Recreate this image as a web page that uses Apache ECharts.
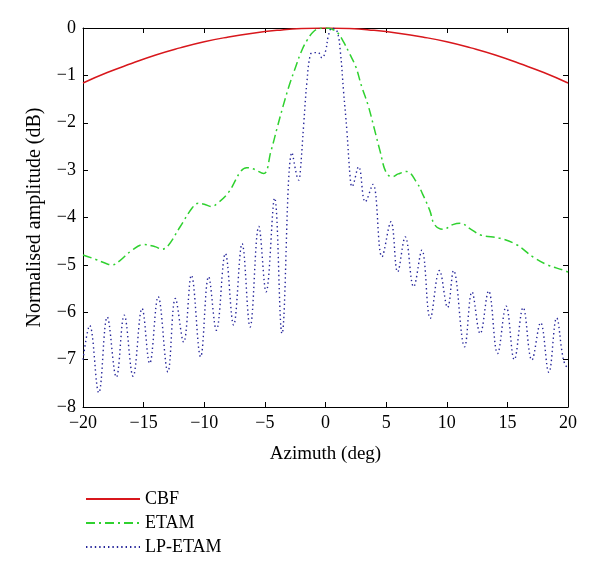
<!DOCTYPE html>
<html>
<head>
<meta charset="utf-8">
<script src="https://cdn.jsdelivr.net/npm/echarts@6/dist/echarts.min.js"></script>
<style>html,body{margin:0;padding:0;background:#fff}#c{width:600px;height:573px}</style>
</head>
<body>
<div id="c"></div>
<script>
var seriesNames = ['CBF', 'ETAM', 'LP-ETAM'];
var xTicks = [-20, -15, -10, -5, 0, 5, 10, 15, 20];
var yTicks = [-8, -7, -6, -5, -4, -3, -2, -1, 0];

var cbfAz = [-20, -18, -16, -14, -12, -10, -8, -6, -4, -2, 0, 2, 4, 6, 8, 10, 12, 14, 16, 18, 20];
var cbfDb = [-1.16, -0.94, -0.75, -0.57, -0.42, -0.29, -0.19, -0.11, -0.05, -0.01, 0, -0.01, -0.05, -0.11, -0.19, -0.29, -0.42, -0.57, -0.75, -0.94, -1.16];

var etamAz = [-20, -19, -18, -17.6, -17, -16, -15, -14, -13.5, -13, -12, -11, -10.5, -10, -9.4, -9, -8, -7, -6.5, -6, -5.1, -4.5, -4, -3.5, -3, -2.5, -2, -1.5, -1, -0.5, 0, 0.5, 1, 1.5, 2, 2.5, 3, 3.5, 4, 4.5, 5, 5.5, 6, 6.7, 7.5, 8, 8.6, 9, 9.7, 10.5, 11.1, 12, 12.8, 14.4, 15.8, 17.1, 18.3, 19.6, 20];
var etamDb = [-4.79, -4.88, -4.98, -5.0, -4.92, -4.7, -4.57, -4.62, -4.67, -4.6, -4.2, -3.8, -3.7, -3.72, -3.77, -3.72, -3.47, -3.03, -2.95, -2.97, -3.07, -2.6, -2.12, -1.65, -1.22, -0.85, -0.5, -0.25, -0.08, -0.01, 0, -0.02, -0.1, -0.3, -0.55, -0.82, -1.25, -1.62, -2.1, -2.6, -3.05, -3.14, -3.08, -3.03, -3.25, -3.5, -3.85, -4.15, -4.25, -4.15, -4.12, -4.25, -4.37, -4.44, -4.58, -4.83, -5.0, -5.11, -5.15];

var lpAz = [-20, -19.45, -18.7, -18.0, -17.25, -16.6, -15.87, -15.13, -14.5, -13.8, -13.0, -12.38, -11.7, -11.06, -10.3, -9.64, -9.0, -8.26, -7.58, -6.88, -6.22, -5.5, -4.9, -4.2, -3.59, -2.76, -2.2, -2.08, -1.8, -1.53, -1.25, -1.0, -0.6, -0.29, 0, 0.26, 0.54, 0.95, 1.22, 1.49, 1.77, 2.04, 2.18, 2.73, 3.28, 3.91, 4.66, 5.4, 5.95, 6.58, 7.27, 7.95, 8.64, 9.4, 10.07, 10.56, 11.47, 12.08, 12.76, 13.45, 14.19, 14.9, 15.57, 16.3, 17.02, 17.74, 18.42, 19.06, 19.63, 20];
var lpDb = [-7.0, -6.28, -7.7, -6.1, -7.37, -6.06, -7.35, -5.92, -7.08, -5.67, -7.26, -5.71, -6.63, -5.22, -6.94, -5.25, -6.38, -4.76, -6.27, -4.55, -6.31, -4.19, -5.57, -3.59, -6.45, -2.63, -3.21, -3.03, -2.04, -1.13, -0.56, -0.52, -0.52, -0.63, -0.49, -0.14, 0, -0.07, -0.49, -1.34, -2.19, -3.17, -3.35, -2.93, -3.67, -3.3, -4.83, -4.09, -5.15, -4.41, -5.46, -4.69, -6.13, -5.12, -5.9, -5.12, -6.73, -5.57, -6.45, -5.55, -6.87, -5.87, -7.0, -5.9, -7.01, -6.22, -7.27, -6.12, -7.01, -7.2];

function zip(a, b) { return a.map(function (v, i) { return [v, b[i]]; }); }
function minus(v) { return String(v).replace('-', '\u2212'); }

var font = 'Liberation Serif';
var chart = echarts.init(document.getElementById('c'), null, { renderer: 'canvas' });
var axisLine = { show: true, onZero: false, lineStyle: { color: '#000', width: 1 } };
var axisTick = { show: true, inside: true, length: 5, lineStyle: { color: '#000', width: 1 } };
var option = {
  animation: false,
  backgroundColor: '#fff',
  grid: { left: 83, right: 32, top: 28, bottom: 166, containLabel: false },
  legend: {
    show: true, orient: 'vertical', left: 80, top: 485, itemWidth: 54, itemHeight: 14, itemGap: 6,
    itemStyle: { opacity: 0 },
    textStyle: { fontFamily: font, fontSize: 18, color: '#000' },
    data: seriesNames
  },
  xAxis: [{
    type: 'value', min: -20, max: 20, interval: 5, position: 'bottom',
    name: 'Azimuth (deg)', nameLocation: 'middle', nameGap: 38,
    nameTextStyle: { fontFamily: font, fontSize: 19, color: '#000' },
    axisLine: axisLine, axisTick: axisTick, splitLine: { show: false },
    axisLabel: { fontFamily: font, fontSize: 18, color: '#000', margin: 7, formatter: minus }
  }, {
    type: 'value', min: -20, max: 20, interval: 5, position: 'top',
    axisLine: axisLine, axisTick: axisTick, splitLine: { show: false }, axisLabel: { show: false }
  }],
  yAxis: [{
    type: 'value', min: -8, max: 0, interval: 1, position: 'left',
    name: 'Normalised amplitude (dB)', nameLocation: 'middle', nameGap: 38, nameRotate: 90,
    nameTextStyle: { fontFamily: font, fontSize: 20, color: '#000' },
    axisLine: axisLine, axisTick: axisTick, splitLine: { show: false },
    axisLabel: { fontFamily: font, fontSize: 18, color: '#000', margin: 7, formatter: minus }
  }, {
    type: 'value', min: -8, max: 0, interval: 1, position: 'right',
    axisLine: axisLine, axisTick: axisTick, splitLine: { show: false }, axisLabel: { show: false }
  }],
  series: [{
    name: 'CBF', type: 'line', data: zip(cbfAz, cbfDb), smooth: 0.5, symbol: 'none',
    lineStyle: { color: '#d8171c', width: 1.5, type: 'solid' }, itemStyle: { color: '#d8171c' }
  }, {
    name: 'ETAM', type: 'line', data: zip(etamAz, etamDb), smooth: 0.4, symbol: 'none',
    lineStyle: { color: '#2fd12f', width: 1.5, type: [9, 4, 2, 4] }, itemStyle: { color: '#2fd12f' }
  }, {
    name: 'LP-ETAM', type: 'line', data: zip(lpAz, lpDb), smooth: 0.4, symbol: 'none',
    lineStyle: { color: '#25259a', width: 1.4, type: [1.4, 3] }, itemStyle: { color: '#25259a' }
  }]
};
chart.setOption(option);
</script>
</body>
</html>
